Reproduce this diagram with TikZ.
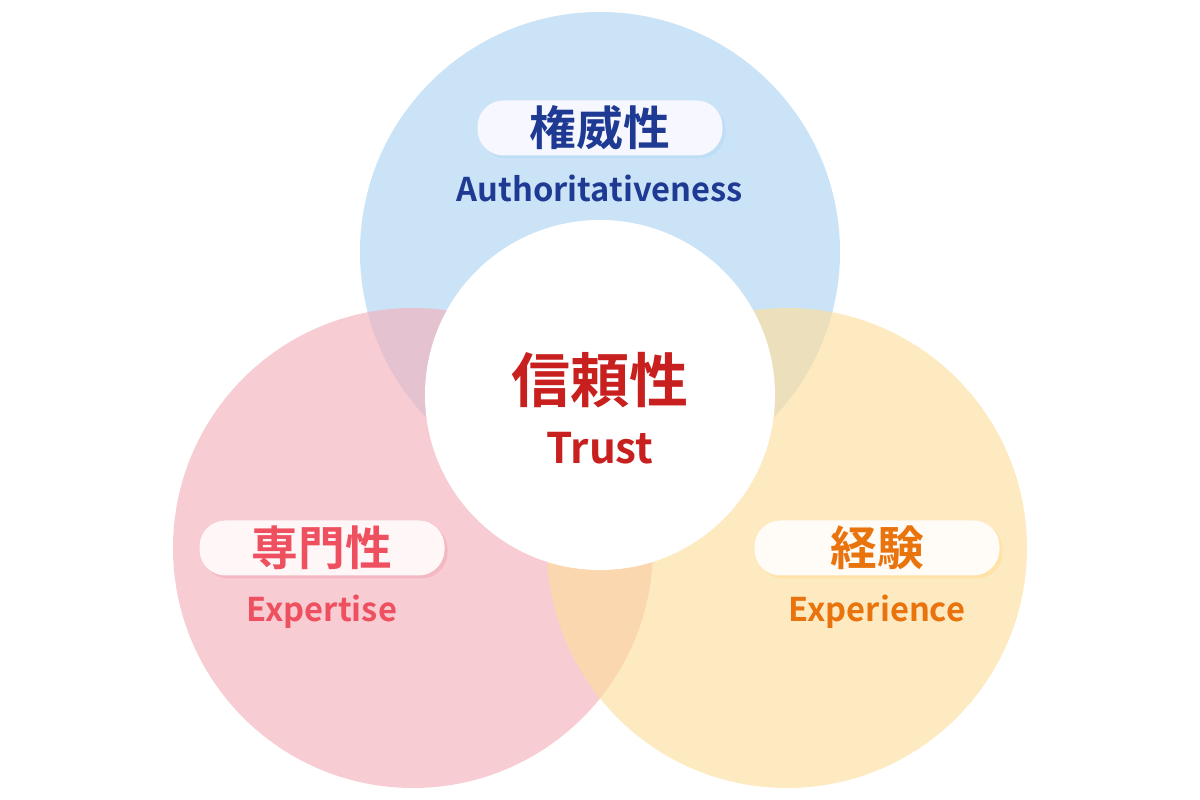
\documentclass[tikz,border=0pt]{standalone}
\usepackage{fontspec}
\setmainfont{Noto Sans CJK JP}[BoldFont={Noto Sans CJK JP Bold}]
\usetikzlibrary{positioning}
\definecolor{authblue}{HTML}{AFD4F2}
\definecolor{exppink}{HTML}{F2B0BA}
\definecolor{expyellow}{HTML}{FEDF9E}
\definecolor{authtext}{HTML}{1F3A93}
\definecolor{trusttext}{HTML}{C8201E}
\definecolor{expttext}{HTML}{EF5060}
\definecolor{exprtext}{HTML}{E9730C}
\begin{document}
\begin{tikzpicture}[
		venn/.style={
			circle,
			minimum size=4.8cm,
			fill opacity=0.65,
			inner sep=0pt
		},
		pill/.style={
			rectangle,
			rounded corners=0.26cm,
			fill=white,
			minimum width=2.45cm,
			minimum height=0.55cm,
			inner sep=0pt,
			font=\bfseries\fontsize{13.3pt}{14pt}\selectfont
		},
		sub/.style={
			font=\bfseries\fontsize{9.3pt}{10pt}\selectfont
		}
	]
	
	\useasboundingbox (0,0) rectangle (12,8);
	
	\node[venn, fill=authblue] (A) at (6,5.48) {};
	\node[venn, fill=exppink] (E) at (4.13,2.52) {};
	\node[venn, fill=expyellow] (X) at (7.87,2.52) {};
	\node[circle, fill=white, minimum size=3.5cm] (T) at (6,4.05) {};
	
	\node[text=trusttext, font=\bfseries\fontsize{16.8pt}{18pt}\selectfont] (Tj) at (6,4.2) {信頼性};
	\node[text=trusttext, font=\bfseries\fontsize{12pt}{13pt}\selectfont, below=0cm of Tj] (Te) {Trust};
	
	% top pill
	\node[pill, fill=authblue!80] at (6.03,6.69) {\phantom{権威性}};
	\node[pill, text=authtext, fill=blue!3] (Aj) at (6,6.72) {権威性};
	\node[sub, text=authtext, below=0.06cm of Aj] (Ae) {Authoritativeness};
	
	% left pill
	\node[pill, fill=exppink!90] at (3.25,2.49) {\phantom{専門性}};
	\node[pill, text=expttext, fill=red!3] (Ej) at (3.22,2.52) {専門性};
	\node[sub, text=expttext, below=0.06cm of Ej] (Ee) {Expertise};
	
	% right pill
	\node[pill, fill=expyellow!90] at (8.8,2.49) {\phantom{経験}};
	\node[pill, text=exprtext, fill=orange!3] (Xj) at (8.77,2.52) {経験};
	\node[sub, text=exprtext, below=0.06cm of Xj] (Xe) {Experience};
	
\end{tikzpicture}
\end{document}
